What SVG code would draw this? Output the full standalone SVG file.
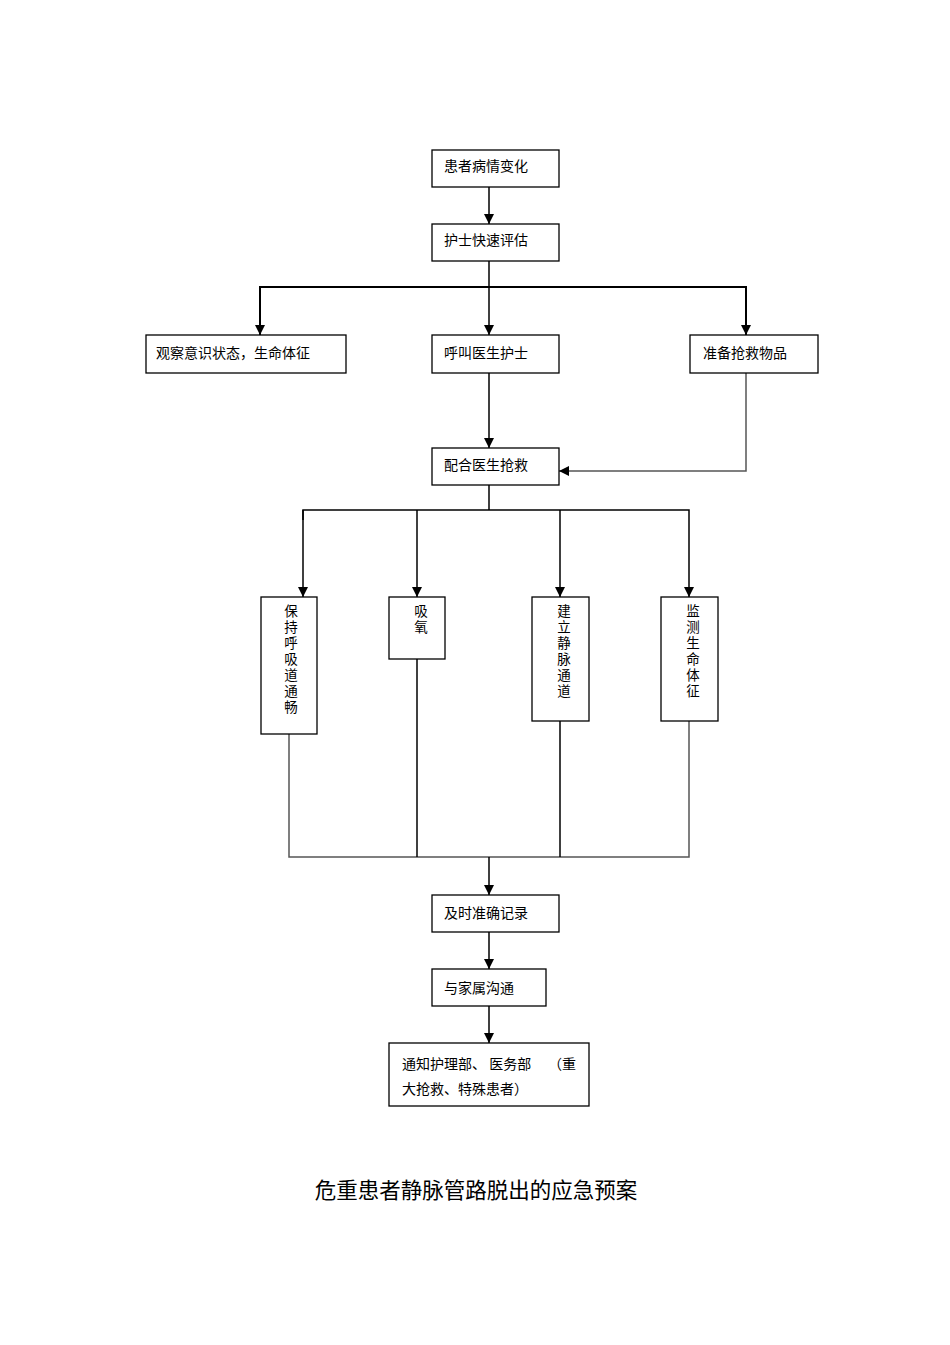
<svg xmlns="http://www.w3.org/2000/svg" width="950" height="1345" viewBox="0 0 950 1345">
<style>
rect{fill:#fff;stroke:#000;stroke-width:1.3}
text{font-family:"Noto Sans CJK SC",sans-serif;font-size:14px;fill:#000}
.v{font-size:13.5px}
.c line,.c polyline{stroke:#000;stroke-width:1.5;fill:none}
.g{stroke:#555 !important}
</style>
<defs><marker id="a" viewBox="0 0 10 10" refX="10" refY="5" markerWidth="11" markerHeight="10" orient="auto" markerUnits="userSpaceOnUse"><path d="M0,0L10,5L0,10z"/></marker></defs>
<rect width="950" height="1345" style="stroke:none"/>
<g class="c">
<line x1="489" y1="187" x2="489" y2="224" marker-end="url(#a)"/>
<line x1="489" y1="261" x2="489" y2="335" marker-end="url(#a)"/>
<polyline points="260,300 260,287 746,287 746,335" marker-end="url(#a)" style="stroke-width:2"/>
<line x1="260" y1="287" x2="260" y2="335" marker-end="url(#a)" style="stroke-width:2"/>
<line x1="489" y1="373" x2="489" y2="448" marker-end="url(#a)"/>
<polyline class="g" points="746,373 746,471 559,471" marker-end="url(#a)"/>
<line x1="489" y1="485" x2="489" y2="510"/>
<polyline points="303,520 303,510 689,510 689,597" marker-end="url(#a)"/>
<line x1="303" y1="510" x2="303" y2="597" marker-end="url(#a)"/>
<line x1="417" y1="510" x2="417" y2="597" marker-end="url(#a)"/>
<line x1="560" y1="510" x2="560" y2="597" marker-end="url(#a)"/>
<polyline class="g" points="289,734 289,857 689,857 689,721"/>
<line x1="417" y1="659" x2="417" y2="857"/>
<line x1="560" y1="721" x2="560" y2="857"/>
<line x1="489" y1="857" x2="489" y2="895" marker-end="url(#a)"/>
<line x1="489" y1="932" x2="489" y2="969" marker-end="url(#a)"/>
<line x1="489" y1="1006" x2="489" y2="1043" marker-end="url(#a)"/>
</g>
<g id="n1"><rect x="432" y="150" width="127" height="37"/><text x="444" y="171">患者病情变化</text></g>
<g id="n2"><rect x="432" y="224" width="127" height="37"/><text x="444" y="245">护士快速评估</text></g>
<g id="n3"><rect x="146" y="335" width="200" height="38"/><text x="156" y="358">观察意识状态，生命体征</text></g>
<g id="n4"><rect x="432" y="335" width="127" height="38"/><text x="444" y="358">呼叫医生护士</text></g>
<g id="n5"><rect x="690" y="335" width="128" height="38"/><text x="703" y="358">准备抢救物品</text></g>
<g id="n6"><rect x="432" y="448" width="127" height="37"/><text x="444" y="470">配合医生抢救</text></g>
<g id="n7"><rect x="261" y="597" width="56" height="137"/><text class="v" x="291" y="616" text-anchor="middle"><tspan x="291">保</tspan><tspan x="291" dy="16">持</tspan><tspan x="291" dy="16">呼</tspan><tspan x="291" dy="16">吸</tspan><tspan x="291" dy="16">道</tspan><tspan x="291" dy="16">通</tspan><tspan x="291" dy="16">畅</tspan></text></g>
<g id="n8"><rect x="389" y="597" width="56" height="62"/><text class="v" x="421" y="616" text-anchor="middle"><tspan x="421">吸</tspan><tspan x="421" dy="16">氧</tspan></text></g>
<g id="n9"><rect x="532" y="597" width="57" height="124"/><text class="v" x="564" y="616" text-anchor="middle"><tspan x="564">建</tspan><tspan x="564" dy="16">立</tspan><tspan x="564" dy="16">静</tspan><tspan x="564" dy="16">脉</tspan><tspan x="564" dy="16">通</tspan><tspan x="564" dy="16">道</tspan></text></g>
<g id="n10"><rect x="661" y="597" width="57" height="124"/><text class="v" x="693" y="616" text-anchor="middle"><tspan x="693">监</tspan><tspan x="693" dy="16">测</tspan><tspan x="693" dy="16">生</tspan><tspan x="693" dy="16">命</tspan><tspan x="693" dy="16">体</tspan><tspan x="693" dy="16">征</tspan></text></g>
<g id="n11"><rect x="432" y="895" width="127" height="37"/><text x="444" y="918">及时准确记录</text></g>
<g id="n12"><rect x="432" y="969" width="114" height="37"/><text x="444" y="993">与家属沟通</text></g>
<g id="n13"><rect x="389" y="1043" width="200" height="63"/><text x="402" y="1069">通知护理部、 医务部</text><text x="548" y="1069">（重</text><text x="402" y="1094">大抢救、特殊患者）</text></g>
<text x="476" y="1198" text-anchor="middle" style="font-size:21.5px">危重患者静脉管路脱出的应急预案</text>
</svg>
